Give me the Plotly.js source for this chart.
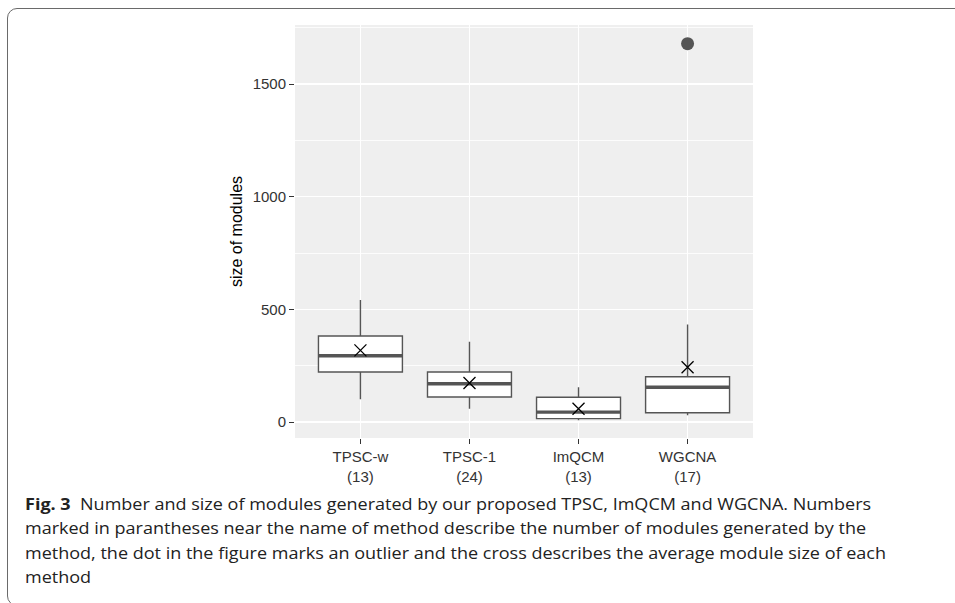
<!DOCTYPE html>
<html>
<head>
<meta charset="utf-8">
<script src="https://cdn.plot.ly/plotly-3.0.1.min.js"></script>
<style>
  html, body { margin:0; padding:0; width:955px; height:603px; overflow:hidden; background:#fff; }
  #frame { position:absolute; left:7px; top:8px; width:980px; height:598px; border:1.3px solid #6a6a6a; border-radius:10px 0 0 10px; box-sizing:border-box; }
  #chart { position:absolute; left:0; top:0; width:955px; height:603px; }
  #caption { position:absolute; left:25px; top:492px; font-family:"Open Sans", sans-serif; font-size:16.5px; line-height:24.4px; color:#222; white-space:nowrap; transform-origin:0 0; }
  #caption b { font-weight:700; }
</style>
</head>
<body>
<div id="frame"></div>
<div id="chart"></div>
<div id="caption">
  <div id="cap1"><b>Fig. 3</b>&nbsp; Number and size of modules generated by our proposed TPSC, ImQCM and WGCNA. Numbers</div>
  <div>marked in parantheses near the name of method describe the number of modules generated by the</div>
  <div>method, the dot in the figure marks an outlier and the cross describes the average module size of each</div>
  <div>method</div>
</div>
<script>
// ---- data ----
const methods = ["TPSC-w", "TPSC-1", "ImQCM", "WGCNA"];
const moduleCounts = [13, 24, 13, 17];
const q1 = [222, 111, 15, 41];
const medians = [294, 170, 44, 154];
const q3 = [382, 222, 110, 201];
const lowerWhisker = [101, 59, 8, 30];
const upperWhisker = [541, 356, 154, 433];
const means = [318, 173, 59, 243];
const outlierMethod = ["WGCNA"];
const outlierValue = [1679];
const yTicks = [0, 500, 1000, 1500];
const yMinorTicks = [250, 750, 1250, 1750];

// ---- build ----
const pos = methods.map((m, i) => i + 1);
const tickText = methods.map((m, i) => m + "<br>(" + moduleCounts[i] + ")");
const boxW = 0.77;
const lineCol = "#555555";

const boxTrace = {
  type: "box",
  x: pos,
  q1: q1, median: medians, q3: q3,
  lowerfence: lowerWhisker, upperfence: upperWhisker,
  width: boxW,
  whiskerwidth: 0,
  fillcolor: "#ffffff",
  line: { color: lineCol, width: 1.4 },
  boxpoints: false,
  hoverinfo: "skip",
  showlegend: false
};

const medX = [], medY = [];
pos.forEach((p, i) => { medX.push(p - boxW / 2, p + boxW / 2, null); medY.push(medians[i], medians[i], null); });
const medianTrace = {
  type: "scatter", mode: "lines", x: medX, y: medY,
  line: { color: lineCol, width: 3.4 }, hoverinfo: "skip", showlegend: false
};

const meanTrace = {
  type: "scatter", mode: "markers", x: pos, y: means,
  marker: { symbol: "x-thin-open", size: 12, color: "#000000", line: { color: "#000000", width: 1.3 } },
  showlegend: false
};

const outlierTrace = {
  type: "scatter", mode: "markers",
  x: outlierMethod.map(m => methods.indexOf(m) + 1), y: outlierValue,
  marker: { symbol: "circle", size: 13, color: lineCol },
  showlegend: false
};

const layout = {
  width: 955, height: 603,
  margin: { l: 295, r: 202, t: 25, b: 165 },
  paper_bgcolor: "rgba(0,0,0,0)",
  plot_bgcolor: "#efefef",
  font: { family: "Liberation Sans, Arial, sans-serif", color: "#000" },
  showlegend: false,
  xaxis: {
    range: [0.4, 4.6],
    tickmode: "array", tickvals: pos, ticktext: tickText,
    ticks: "outside", ticklen: 5, tickwidth: 1, tickcolor: "#333",
    tickfont: { size: 15, color: "#333" },
    showgrid: true, gridcolor: "#ffffff", gridwidth: 1.4,
    zeroline: false, showline: false
  },
  yaxis: {
    range: [-71, 1762],
    tickmode: "array", tickvals: yTicks,
    ticks: "outside", ticklen: 5, tickwidth: 1, tickcolor: "#333",
    tickfont: { size: 15, color: "#333" },
    showgrid: true, gridcolor: "#ffffff", gridwidth: 1.4,
    minor: { tickmode: "array", tickvals: yMinorTicks, showgrid: true, gridcolor: "#ffffff", gridwidth: 0.8, ticks: "" },
    zeroline: false, showline: false,
    title: { text: "size of modules", font: { size: 16, color: "#000" }, standoff: 6 }
  }
};

Plotly.newPlot("chart", [boxTrace, medianTrace, meanTrace, outlierTrace], layout, { displayModeBar: false, staticPlot: true });

// fit caption width to the reference line length
const cap = document.getElementById("caption");
const w1 = document.getElementById("cap1").getBoundingClientRect().width;
cap.style.transform = "scaleX(" + (861 / w1) + ")";
</script>
</body>
</html>
